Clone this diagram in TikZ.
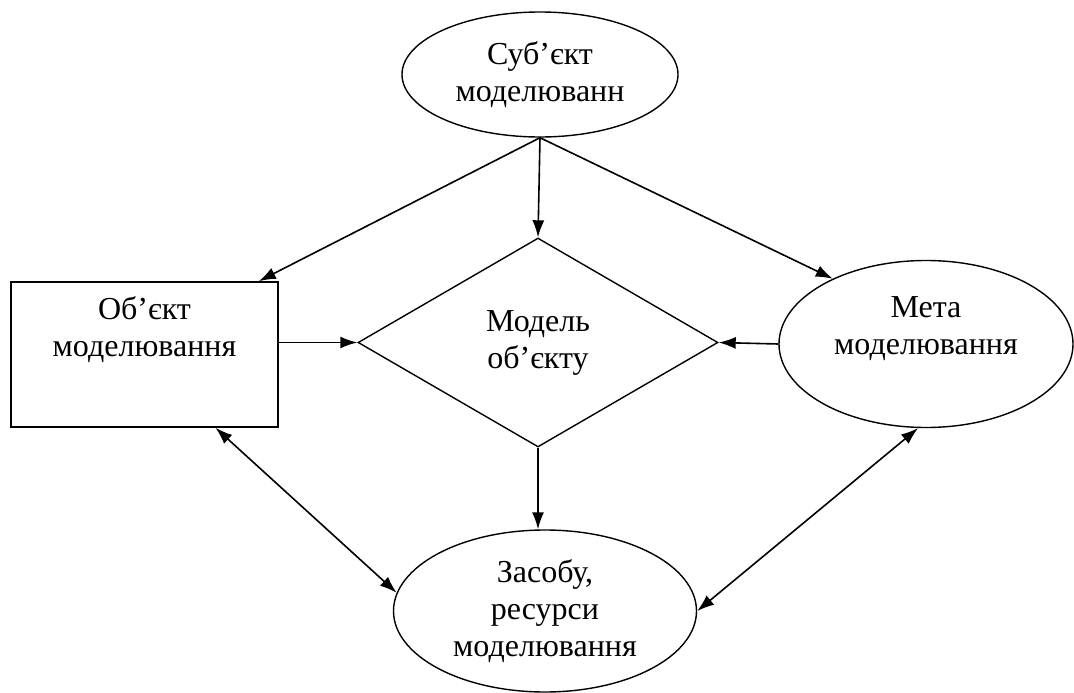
\documentclass[tikz,border=0pt]{standalone}
\usepackage{fontspec}
\setmainfont{Liberation Serif}
\usetikzlibrary{shapes.geometric,arrows.meta,positioning}

\begin{document}
\begin{tikzpicture}[x=1pt, y=-1pt,
			font=\fontsize{32}{37}\selectfont,
			oval/.style={
					ellipse,
					draw,
					line width=1.4pt,
					inner sep=0pt,
					align=center
				},
			box/.style={rectangle, draw, line width=1.6pt, inner sep=0pt},
			rhomb/.style={diamond, draw, line width=1.4pt, inner sep=0pt, align=center},
			caption/.style={align=center, inner sep=0pt},
			line/.style={draw, line width=1.6pt, -{Latex[length=17pt,width=12pt]}},
			both/.style={draw, line width=1.6pt, {Latex[length=17pt,width=12pt]}-{Latex[length=17pt,width=12pt]}}
		]
		\useasboundingbox (0,0) rectangle (1074,693);
		% Place nodes
		\node [oval, minimum width=276pt, minimum height=125pt] (subj) at (540,74.5) {Суб’єкт\\моделюванн};
		\node [box, minimum width=267pt, minimum height=145pt] (obj) at (144.5,354.5) {};
		\node [caption] (objtext) at (144.5,330) {Об’єкт\\моделювання};
		\node [rhomb, minimum width=360pt, minimum height=209pt] (model) at (538,342.5) {Модель\\об’єкту};
		\node [oval, minimum width=294pt, minimum height=167pt] (goal) at (926,344) {};
		\node [caption] (goaltext) at (926,329) {Мета\\моделювання};
		\node [oval, minimum width=303pt, minimum height=162pt] (res) at (545,611) {Засобу,\\ресурси\\моделювання};
		% Draw edges
		\path [line] (subj.south) -- ([xshift=-20pt]obj.north east);
		\path [line] (subj.south) -- (model.north);
		\path [line] (subj.south) -- (goal.145);
		\path [line] (obj.east |- model.west) -- (model.west);
		\path [line] (goal.west) -- (model.east);
		\path [line] (model.south) -- (model.south |- res.north);
		\path [both] ([xshift=71pt]obj.south) -- (res.173);
		\path [both] ([xshift=-8pt]goal.south) -- (res.east);
	\end{tikzpicture}
\end{document}
